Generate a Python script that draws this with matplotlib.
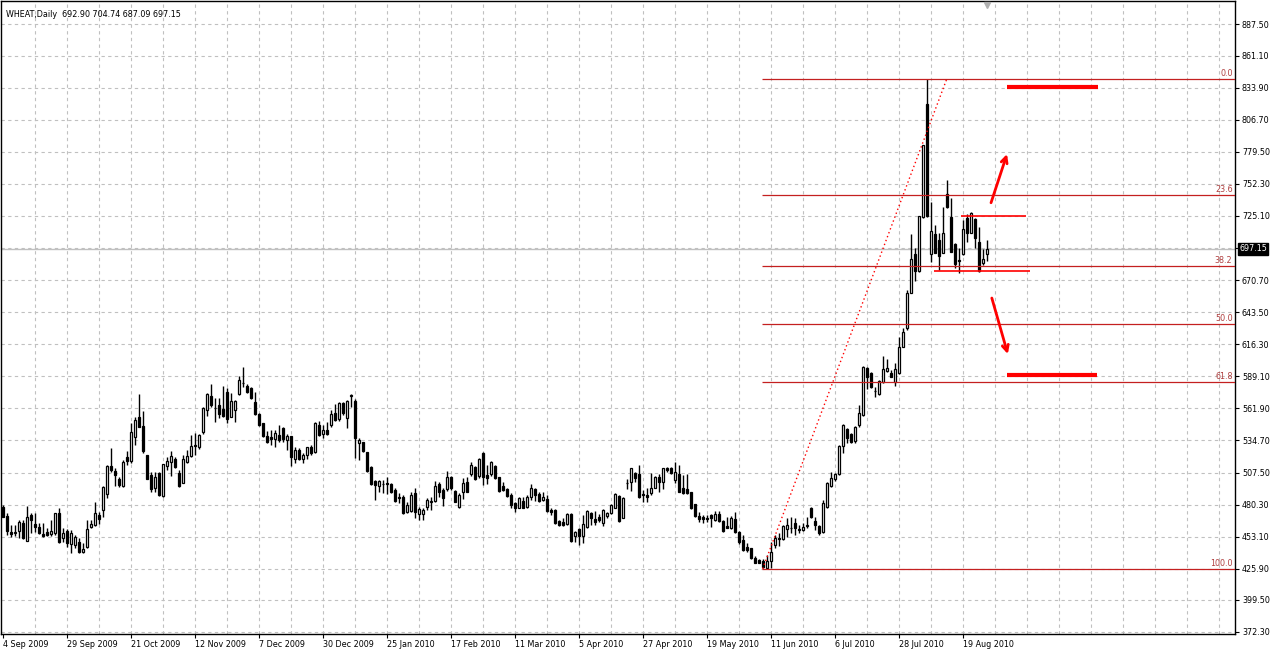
import matplotlib
matplotlib.use('Agg')
import matplotlib.pyplot as plt
from matplotlib.transforms import blended_transform_factory

# WHEAT daily bars, 4 Sep 2009 .. 27 Aug 2010
opens = [
    478.5, 470.6, 457.1, 456.5, 458.2, 464.9, 449.7, 471.5, 463.9, 461.6,
    455.1, 457.1, 455.7, 456.5, 472.9, 451.7, 457.9, 446.7, 446.0, 448.3,
    439.8, 444.1, 461.3, 463.2, 471.5, 475.7, 489.0, 513.1, 509.0, 502.0,
    496.1, 520.4, 517.5, 537.4, 554.3, 546.9, 522.0, 505.4, 494.1, 506.8,
    487.6, 513.0, 516.7, 518.7, 507.5, 498.9, 516.8, 521.3, 530.8, 528.9,
    542.2, 560.5, 572.4, 561.9, 564.8, 561.1, 576.0, 554.8, 560.3, 573.8,
    583.7, 580.9, 578.9, 567.1, 556.9, 549.7, 538.5, 537.4, 536.2, 539.3,
    545.0, 535.1, 538.5, 518.7, 526.6, 518.9, 522.4, 529.1, 525.2, 547.8,
    539.9, 543.6, 547.8, 558.2, 552.6, 566.2, 554.0, 572.7, 568.2, 532.2,
    533.2, 525.2, 512.4, 500.3, 496.5, 497.5, 498.9, 497.5, 492.7, 487.0,
    487.0, 474.3, 474.9, 489.9, 472.1, 472.1, 478.5, 482.2, 483.4, 497.5,
    492.7, 493.5, 504.0, 491.8, 478.5, 490.7, 499.7, 506.0, 512.4, 504.8,
    523.8, 505.4, 506.0, 513.3, 503.5, 496.3, 493.5, 488.4, 481.4, 477.7,
    483.4, 478.5, 487.0, 493.5, 489.0, 484.2, 485.0, 475.7, 475.7, 466.4,
    465.8, 463.6, 472.1, 453.9, 459.3, 453.9, 461.6, 472.9, 468.1, 470.0,
    464.4, 470.9, 472.9, 477.7, 487.8, 469.2, 498.4, 499.2, 506.8, 506.0,
    489.1, 488.4, 490.0, 494.6, 503.9, 499.7, 511.1, 511.6, 501.2, 506.0,
    494.1, 493.5, 490.7, 480.5, 470.9, 470.0, 469.2, 471.5, 467.2, 472.1,
    466.4, 462.4, 460.7, 468.1, 457.3, 450.3, 444.6, 443.2, 435.3, 433.3,
    432.5, 426.3, 432.5, 446.0, 451.7, 450.9, 459.3, 460.2, 464.4, 459.6,
    458.8, 462.4, 477.7, 466.4, 462.1, 456.8, 478.0, 496.1, 501.8, 506.2,
    530.0, 544.2, 540.2, 534.0, 547.8, 556.3, 595.9, 592.1, 576.8, 574.1,
    584.5, 593.9, 592.1, 584.5, 591.6, 614.2, 629.8, 660.0, 692.8, 678.6,
    724.4, 820.0, 692.8, 709.8, 704.7, 693.9, 743.7, 723.9, 701.3, 687.8,
    692.6, 723.1, 710.9, 722.2, 703.2, 684.9, 692.90,
]
highs = [
    480.0, 473.2, 463.0, 462.7, 467.2, 467.2, 479.1, 472.9, 472.9, 464.9,
    464.4, 460.2, 467.2, 473.4, 477.2, 460.2, 459.3, 458.6, 454.5, 451.7,
    447.5, 467.2, 467.2, 482.8, 474.3, 496.0, 513.8, 528.0, 511.0, 504.0,
    518.2, 526.0, 549.2, 554.8, 574.1, 559.9, 522.8, 508.2, 508.2, 508.2,
    514.7, 520.9, 526.0, 520.9, 509.6, 522.4, 526.6, 539.3, 541.3, 539.9,
    563.3, 574.6, 582.6, 570.4, 570.4, 580.9, 578.9, 574.7, 569.0, 589.4,
    597.2, 582.6, 579.8, 576.0, 557.7, 549.7, 543.0, 543.6, 543.6, 547.8,
    545.9, 540.2, 538.5, 528.9, 528.0, 523.8, 529.4, 530.8, 550.1, 551.2,
    547.8, 550.1, 560.5, 565.4, 567.6, 567.6, 569.0, 573.8, 569.9, 537.0,
    533.6, 525.2, 513.3, 501.2, 501.2, 501.2, 504.0, 498.4, 494.1, 489.9,
    488.4, 482.5, 491.2, 494.1, 478.3, 477.2, 485.6, 487.0, 500.3, 499.7,
    494.1, 508.8, 504.8, 492.7, 489.9, 503.1, 504.0, 516.7, 513.3, 520.1,
    525.2, 513.9, 517.3, 513.9, 504.0, 499.2, 494.1, 489.9, 482.2, 487.0,
    487.0, 488.4, 497.5, 494.1, 490.7, 491.2, 488.4, 477.2, 476.6, 467.2,
    468.7, 472.9, 472.9, 457.6, 460.2, 471.8, 475.5, 474.3, 474.9, 472.1,
    476.6, 474.3, 480.5, 489.9, 488.4, 487.0, 502.0, 511.6, 508.2, 513.9,
    492.7, 494.6, 506.8, 504.8, 506.0, 511.6, 512.4, 512.4, 516.7, 513.9,
    505.4, 506.0, 491.2, 480.5, 473.8, 471.5, 471.5, 472.1, 474.9, 474.9,
    467.2, 470.0, 470.9, 473.8, 457.9, 454.5, 447.5, 443.8, 437.0, 434.2,
    434.2, 437.6, 448.3, 454.5, 456.0, 463.0, 468.7, 469.5, 468.7, 463.0,
    464.9, 469.5, 478.5, 470.0, 462.7, 484.2, 499.7, 508.2, 507.4, 530.8,
    548.7, 545.0, 540.8, 547.0, 564.8, 597.8, 597.2, 593.0, 579.8, 586.0,
    606.3, 603.5, 594.4, 600.1, 622.7, 629.8, 662.3, 709.8, 697.6, 725.0,
    785.2, 841.0, 737.2, 717.4, 710.4, 732.9, 755.6, 740.0, 701.9, 697.6,
    721.6, 726.7, 728.7, 723.1, 715.9, 696.8, 704.74,
]
lows = [
    469.8, 454.5, 452.8, 453.3, 452.0, 451.0, 449.5, 455.9, 457.3, 455.4,
    452.5, 453.3, 453.3, 454.5, 447.5, 448.9, 444.6, 439.0, 443.2, 439.0,
    439.0, 443.2, 460.2, 462.3, 463.9, 470.0, 485.6, 508.3, 496.1, 495.5,
    495.5, 513.9, 515.3, 530.5, 546.3, 524.3, 501.8, 491.2, 491.2, 487.6,
    487.0, 509.6, 504.6, 511.0, 495.5, 498.4, 515.7, 520.4, 522.4, 527.2,
    540.2, 555.4, 563.3, 550.6, 553.5, 554.8, 549.2, 554.3, 550.6, 573.0,
    580.3, 574.7, 569.6, 556.3, 546.9, 537.9, 532.8, 530.8, 529.4, 533.6,
    533.6, 526.6, 513.0, 515.3, 518.1, 515.3, 518.9, 522.4, 523.8, 538.7,
    537.0, 539.3, 546.4, 551.2, 551.2, 556.3, 545.6, 562.7, 519.6, 518.1,
    525.2, 507.7, 496.9, 484.2, 490.7, 489.9, 489.0, 489.9, 482.8, 481.4,
    472.3, 473.2, 474.0, 468.7, 467.2, 467.2, 475.7, 475.7, 482.8, 487.0,
    479.4, 491.8, 492.7, 482.2, 477.2, 485.0, 490.7, 504.8, 501.2, 503.1,
    496.9, 497.5, 504.8, 502.0, 491.2, 491.8, 487.0, 477.7, 474.3, 477.2,
    477.2, 477.7, 484.2, 483.4, 482.8, 483.4, 474.3, 471.5, 463.6, 462.4,
    462.4, 463.0, 448.9, 448.9, 446.0, 447.5, 460.7, 463.0, 463.0, 465.3,
    462.4, 469.2, 472.1, 477.2, 465.8, 468.7, 493.5, 491.8, 499.2, 486.1,
    482.8, 482.2, 488.4, 494.1, 490.7, 493.5, 507.7, 506.0, 498.4, 490.7,
    489.0, 489.0, 476.6, 470.0, 465.8, 464.4, 465.3, 461.6, 466.4, 465.8,
    457.3, 460.2, 459.6, 456.0, 446.6, 440.9, 439.8, 434.2, 430.5, 430.5,
    426.8, 425.9, 426.3, 443.2, 445.2, 450.3, 453.1, 455.9, 454.5, 455.9,
    457.9, 460.2, 469.2, 458.8, 454.5, 455.9, 477.2, 495.5, 500.6, 505.4,
    523.8, 532.3, 532.8, 532.3, 546.4, 555.4, 578.1, 578.9, 571.8, 573.2,
    583.7, 593.0, 588.2, 580.9, 591.0, 613.7, 628.4, 660.0, 670.2, 677.8,
    723.6, 724.4, 686.3, 693.4, 679.2, 693.4, 731.6, 694.3, 680.7, 676.9,
    691.9, 703.2, 710.4, 697.6, 677.8, 683.5, 687.09,
]
closes = [
    470.0, 458.2, 455.4, 457.3, 465.8, 451.7, 469.5, 467.2, 461.1, 456.5,
    453.9, 454.5, 457.9, 472.9, 448.9, 456.5, 447.5, 455.9, 453.1, 440.4,
    442.6, 459.7, 464.1, 472.9, 467.8, 495.5, 513.1, 509.7, 505.1, 497.2,
    516.4, 517.5, 541.9, 552.0, 546.3, 526.0, 502.3, 493.3, 503.5, 488.4,
    514.7, 517.3, 521.5, 511.9, 496.1, 518.7, 521.3, 530.0, 530.0, 539.1,
    562.0, 573.8, 564.8, 562.0, 556.9, 555.4, 552.6, 568.2, 568.4, 586.0,
    583.5, 575.8, 570.4, 556.9, 547.5, 538.5, 533.6, 536.2, 540.8, 535.1,
    535.7, 538.5, 520.9, 526.6, 518.7, 522.4, 528.9, 524.3, 549.2, 539.3,
    543.6, 540.2, 556.9, 552.0, 566.2, 557.7, 568.2, 573.2, 537.0, 535.1,
    525.8, 508.8, 497.5, 496.9, 500.3, 497.7, 497.5, 490.7, 483.4, 485.6,
    472.9, 480.0, 488.4, 474.3, 476.6, 475.5, 484.2, 483.4, 496.1, 491.2,
    485.6, 503.8, 494.1, 482.8, 488.4, 498.4, 491.2, 513.9, 502.0, 519.0,
    504.0, 503.1, 516.2, 502.6, 491.8, 492.7, 487.9, 479.9, 477.2, 485.6,
    477.7, 487.0, 494.6, 488.4, 483.6, 486.5, 474.9, 474.3, 464.4, 463.0,
    463.0, 472.1, 449.4, 456.8, 453.9, 463.9, 474.9, 468.7, 465.3, 467.2,
    475.7, 472.9, 480.0, 489.0, 466.4, 486.1, 498.9, 511.1, 502.6, 487.0,
    488.4, 487.0, 494.1, 503.9, 499.7, 511.1, 509.6, 506.8, 507.7, 491.2,
    489.9, 489.9, 477.7, 470.9, 468.1, 468.1, 468.1, 468.7, 472.1, 466.6,
    457.9, 460.7, 469.2, 456.8, 448.3, 441.8, 441.8, 434.8, 431.0, 431.0,
    427.6, 432.5, 440.4, 451.7, 451.1, 462.1, 462.7, 460.7, 460.7, 459.1,
    461.6, 463.0, 470.0, 463.0, 455.9, 481.4, 498.9, 502.6, 506.0, 530.3,
    547.6, 536.5, 533.6, 546.4, 557.7, 597.2, 588.2, 580.3, 576.4, 585.4,
    595.0, 595.9, 588.8, 595.0, 613.7, 626.4, 660.0, 688.3, 678.6, 725.0,
    785.2, 725.0, 712.6, 693.9, 691.4, 710.4, 732.4, 694.8, 684.3, 687.1,
    713.8, 710.4, 727.3, 706.1, 678.6, 688.3, 697.15,
]

date_labels = ['4 Sep 2009', '29 Sep 2009', '21 Oct 2009', '12 Nov 2009',
               '7 Dec 2009', '30 Dec 2009', '25 Jan 2010', '17 Feb 2010',
               '11 Mar 2010', '5 Apr 2010', '27 Apr 2010', '19 May 2010',
               '11 Jun 2010', '6 Jul 2010', '28 Jul 2010', '19 Aug 2010']
price_ticks = [887.50, 861.10, 833.90, 806.70, 779.50, 752.30, 725.10, 697.90,
               670.70, 643.50, 616.30, 589.10, 561.90, 534.70, 507.50, 480.30,
               453.10, 425.90, 399.50, 372.30]

# fibonacci retracement anchors (bar index)
fib_from_bar = 190
fib_to_bar = 236
fib_levels = [0.0, 23.6, 38.2, 50.0, 61.8, 100.0]

# hand drawn marks: (price, bar from, bar to)
range_lines = [(725.0, 239.6, 255.8), (678.1, 232.8, 256.8)]
target_lines = [(834.4, 251.1, 273.8), (590.2, 251.1, 273.6)]
arrows = [((247.1, 736.3), (251.1, 777.6)), ((247.3, 655.5), (251.3, 608.0))]

n = len(closes)
assert len(opens) == len(highs) == len(lows) == n

plt.rcParams['font.family'] = ['DejaVu Sans']
fig = plt.figure(figsize=(12.76, 6.53), dpi=100)
ax = fig.add_axes([1 / 1276, 19 / 653, 1234 / 1276, 633 / 653])

x_left, x_right = -0.43, 308.1
ax.set_xlim(x_left, x_right)
ax.set_ylim(370.6, 907.4)

# grid
for gx in range(8, 308, 8):
    ax.axvline(gx, color='#c0c0c0', lw=0.8, ls=(0, (3, 3)), zorder=0)
for gy in price_ticks:
    ax.axhline(gy, color='#c0c0c0', lw=0.8, ls=(0, (3, 3)), zorder=0)

# current price line
ax.axhline(closes[-1], color='#c0c0c0', lw=1.0, zorder=1)

# candles
xs = list(range(n))
ax.vlines(xs, lows, highs, color='black', lw=1.0, zorder=2)
for i in range(n):
    o, c = opens[i], closes[i]
    fill = 'white' if c >= o else 'black'
    ax.bar(i, abs(c - o), bottom=min(o, c), width=0.5, color=fill,
           edgecolor='black', linewidth=0.9, zorder=3)

# fibonacci
hi = max(highs)
lo = min(lows)
fib_red = '#c42020'
trans_ax = blended_transform_factory(ax.transAxes, ax.transData)
for lvl in fib_levels:
    p = hi - (hi - lo) * lvl / 100.0
    ax.hlines(p, fib_from_bar - 0.1, x_right, color=fib_red, lw=0.9, zorder=4)
    ax.text(0.998, p + 1.0, f'{lvl:.1f}', transform=trans_ax, ha='right',
            va='bottom', fontsize=5.8, color='#b04040', zorder=5)
ax.plot([fib_from_bar, fib_to_bar], [lo, hi], color='red', lw=1.0,
        ls=(0, (1, 2)), zorder=4)

# hand drawn analysis
for p, a, b in range_lines:
    ax.hlines(p, a, b, color='red', lw=1.2, zorder=5)
for p, a, b in target_lines:
    ax.hlines(p, a, b, color='red', lw=3.0, zorder=5)
for start, end in arrows:
    ax.annotate('', xy=end, xytext=start,
                arrowprops=dict(arrowstyle='->', color='red', lw=2.0,
                                mutation_scale=11, shrinkA=0, shrinkB=0),
                zorder=5)

# axes styling
for s in ax.spines.values():
    s.set_color('black')
    s.set_linewidth(1.0)
ax.yaxis.tick_right()
ax.set_yticks(price_ticks)
ax.set_yticklabels(['' if t == 697.90 else f'{t:.2f}' for t in price_ticks])
ax.tick_params(axis='y', direction='out', length=3, width=0.8, pad=2,
               labelsize=5.8, colors='black')
ax.set_xticks(range(0, 16 * len(date_labels), 16))
ax.set_xticklabels(date_labels, ha='left')
ax.tick_params(axis='x', direction='out', length=3, width=0.8, pad=1.5,
               labelsize=5.8, colors='black')

# last price box
ax.annotate(f'{closes[-1]:.2f}', xy=(1.0, closes[-1]), xycoords=trans_ax,
            xytext=(3, 0), textcoords='offset points', ha='left', va='center',
            fontsize=5.8, color='white', annotation_clip=False,
            bbox=dict(boxstyle='square,pad=0.15', fc='black', ec='black'))

# chart shift marker
trans_top = blended_transform_factory(ax.transData, ax.transAxes)
ax.plot([n - 1], [0.993], marker='v', color='#b0b0b0', markersize=5,
        transform=trans_top, clip_on=False, zorder=6)

ax.text(0.004, 0.985,
        f'WHEAT,Daily  {opens[-1]:.2f} {highs[-1]:.2f} {lows[-1]:.2f} {closes[-1]:.2f}',
        transform=ax.transAxes, ha='left', va='top', fontsize=5.8, color='black')

fig.savefig('out.png', dpi=100, facecolor='white')
